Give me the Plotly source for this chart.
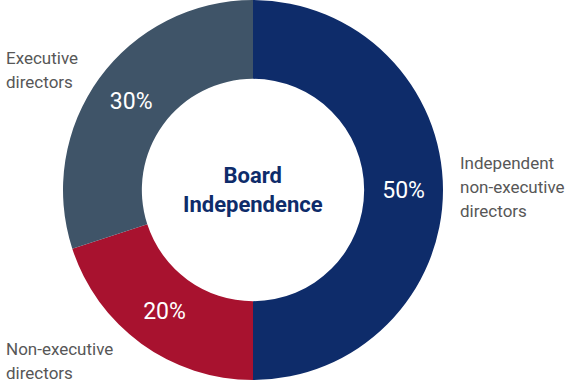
import plotly.graph_objects as go

# Board composition shares (%)
categories = ["Independent non-executive directors", "Non-executive directors", "Executive directors"]
shares = [50, 20, 30]
colors = ["#0E2C6A", "#A8122F", "#3F5468"]

# Outside labels, one entry per line: (text, x px, y px of line centre)
label_lines = [
    ("Independent", 458, 163), ("non-executive", 458, 187), ("directors", 458, 211),
    ("Non-executive", 4, 349), ("directors", 4, 373),
    ("Executive", 4, 58), ("directors", 4, 82),
]

W, H = 568, 383
cx, cy, r = 253.0, 190.0, 190.0

fig = go.Figure(
    go.Pie(
        labels=categories,
        values=shares,
        hole=0.585,
        sort=False,
        direction="clockwise",
        rotation=0,
        marker=dict(colors=colors, line=dict(width=0)),
        texttemplate="%{value}%",
        textposition="inside",
        insidetextorientation="horizontal",
        textfont=dict(family="Roboto", size=23, color="white"),
        showlegend=False,
        hoverinfo="label+percent",
        domain=dict(x=[(cx - r) / W, (cx + r) / W], y=[1 - (cy + r) / H, 1 - (cy - r) / H]),
    )
)

annotations = [
    dict(
        text="<b>Board<br>Independence</b>",
        x=cx / W, y=1 - cy / H, xref="paper", yref="paper",
        showarrow=False, xanchor="center", yanchor="middle",
        font=dict(family="Roboto", size=22, color="#0E2C6A"),
    )
]
for txt, x, y in label_lines:
    annotations.append(
        dict(
            text=txt, x=x / W, y=1 - y / H, xref="paper", yref="paper",
            showarrow=False, xanchor="left", yanchor="middle", align="left",
            font=dict(family="Roboto", size=17, color="#575757"),
        )
    )

fig.update_layout(
    width=W, height=H,
    margin=dict(l=0, r=0, t=0, b=0),
    paper_bgcolor="white",
    annotations=annotations,
)

fig.write_html("out.html")
